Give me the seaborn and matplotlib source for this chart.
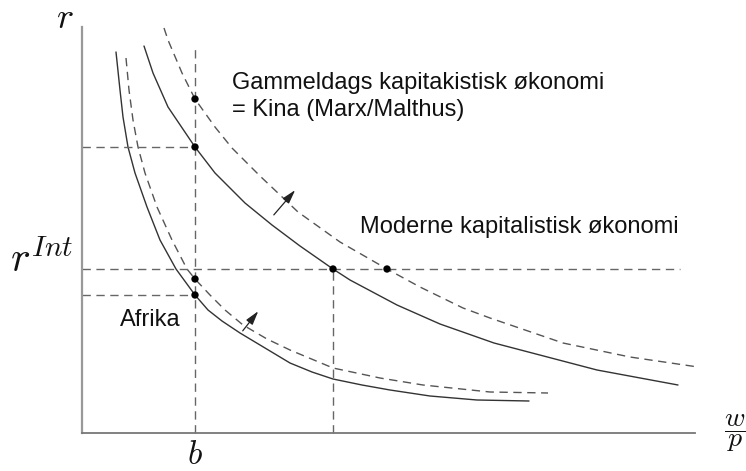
import matplotlib
matplotlib.use("Agg")
import matplotlib.pyplot as plt
import seaborn as sns

# curves (w/p on x, r on y)
afrika_x = [34, 38, 41, 46, 53, 65, 78, 94, 113, 126, 140, 158, 208, 230, 251, 280, 308, 348, 395, 447]
afrika_y = [381, 343, 316, 286, 260, 226, 193, 164, 138, 123, 112, 100, 70, 61, 54, 48, 43, 37, 33, 32]
afrika_ny_x = [44, 47, 51, 56, 63, 75, 90, 105, 113, 128, 143, 161, 185, 208, 251, 298, 341, 408, 466]
afrika_ny_y = [375, 343, 313, 286, 260, 226, 193, 164, 154, 138, 123, 108, 94, 83, 65, 55, 48, 41, 40]
kina_x = [62, 71, 86, 113, 133, 163, 190, 218, 251, 268, 315, 358, 412, 515, 596]
kina_y = [387, 360, 326, 286, 260, 230, 208, 187, 164, 153, 128, 109, 90, 63, 48]
kina_ny_x = [82, 86, 100, 113, 133, 150, 178, 216, 258, 305, 338, 381, 408, 481, 548, 616]
kina_ny_y = [405, 393, 360, 334, 306, 285, 257, 221, 191, 164, 146, 125, 115, 90, 76, 66]

b = 113
w_int = 251
r_int = 164
r_kina = 286
r_afrika = 138
dot_x = [113, 113, 113, 113, 251, 305]
dot_y = [334, 286, 154, 138, 164, 164]

sns.set_theme(style="white")
plt.rcParams["font.family"] = ["Liberation Sans", "DejaVu Sans"]
plt.rcParams["mathtext.fontset"] = "cm"

fig = plt.figure(figsize=(7.46, 4.71), dpi=100)
ax = fig.add_axes([82 / 746, 38 / 471, 613 / 746, 406 / 471])
ax.set_xlim(0, 613)
ax.set_ylim(0, 406)

solid = "#333333"
dash = "#555555"
sns.lineplot(x=afrika_x, y=afrika_y, sort=False, color=solid, lw=1.0, ax=ax)
sns.lineplot(x=afrika_ny_x, y=afrika_ny_y, sort=False, color=dash, lw=1.0, ax=ax)
sns.lineplot(x=kina_x, y=kina_y, sort=False, color=solid, lw=1.0, ax=ax)
sns.lineplot(x=kina_ny_x, y=kina_ny_y, sort=False, color=dash, lw=1.0, ax=ax)
for i, l in enumerate(ax.lines):
    if i % 2 == 1:
        l.set_dashes((6, 4))
    l.set_clip_on(False)
    l.set_solid_joinstyle("round")

# guides
g = dict(color="#666666", lw=1.0, dashes=(6, 4), clip_on=False)
ax.plot([b, b], [0, 388], **g)
ax.plot([w_int, w_int], [0, r_int], **g)
ax.plot([0, 598], [r_int, r_int], **g)
ax.plot([0, b], [r_kina, r_kina], **g)
ax.plot([0, b], [r_afrika, r_afrika], **g)

sns.scatterplot(x=dot_x, y=dot_y, color="black", s=28, edgecolor="none", ax=ax, zorder=5, clip_on=False)

arr = dict(arrowstyle="-|>,head_length=0.7,head_width=0.2", color="#222222", lw=0.9)
ax.annotate("", xy=(215, 245), xytext=(190, 216), arrowprops=arr)
ax.annotate("", xy=(178, 124), xytext=(159, 100), arrowprops=arr)

for s in ["top", "right"]:
    ax.spines[s].set_visible(False)
ax.spines["left"].set_color("#999999")
ax.spines["left"].set_linewidth(1.6)
ax.spines["bottom"].set_color("#777777")
ax.spines["bottom"].set_linewidth(1.3)
ax.set_xticks([])
ax.set_yticks([])

kw = dict(fontsize=17, color="#111111", va="center", ha="left", clip_on=False)
ax.text(150, 350, "Gammeldags kapitakistisk økonomi", **kw)
ax.text(150, 323, "= Kina (Marx/Malthus)", **kw)
ax.text(278, 206, "Moderne kapitalistisk økonomi", **kw)
ax.text(38, 113, "Afrika", **kw)

m = dict(color="#111111", ha="center", va="center", clip_on=False)
ax.text(-17, 415, r"$r$", fontsize=26, **m)
ax.text(-40, 172, r"$r^{Int}$", fontsize=30, **m)
ax.text(113, -23, r"$b$", fontsize=24, **m)
ax.text(653, 0, r"$\dfrac{w}{p}$", fontsize=20, **m)

fig.savefig("out.png", dpi=100)
